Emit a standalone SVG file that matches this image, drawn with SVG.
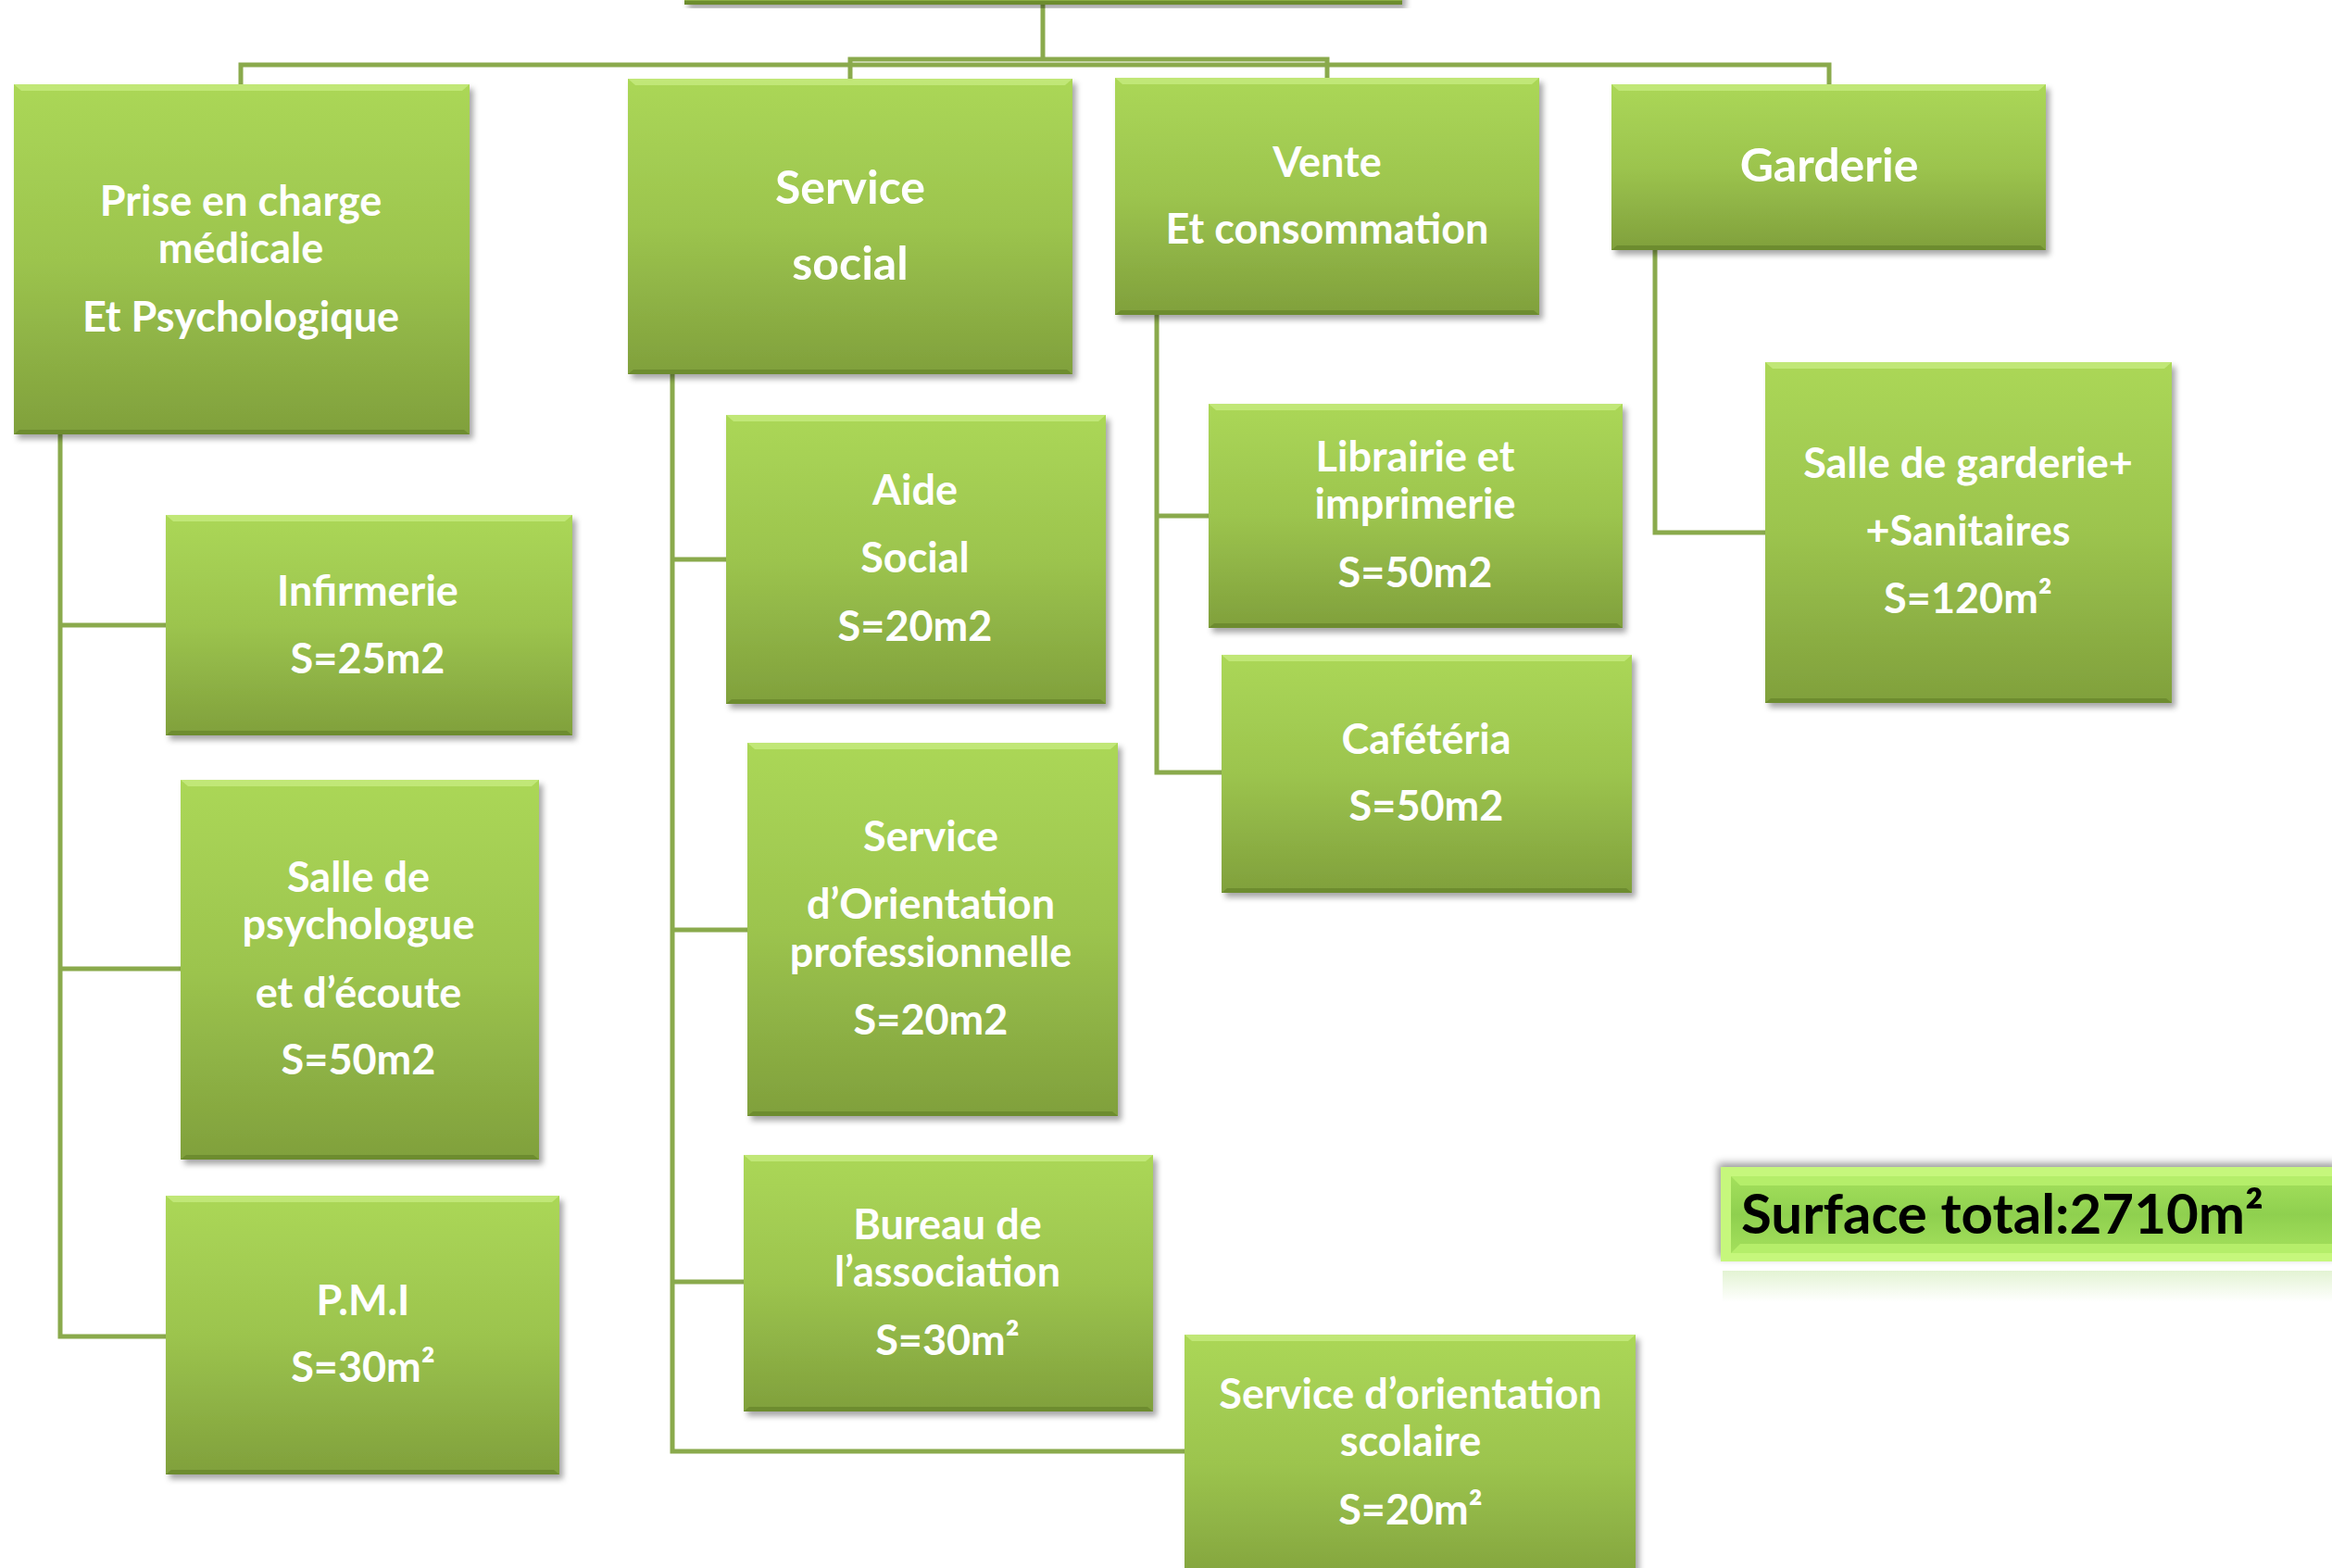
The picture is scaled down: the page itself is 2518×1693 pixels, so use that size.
<svg xmlns="http://www.w3.org/2000/svg" width="2518" height="1693" viewBox="0 0 2518 1693">
<defs>
<linearGradient id="g" x1="0" y1="0" x2="0" y2="1">
<stop offset="0" stop-color="#abd757"/>
<stop offset="0.5" stop-color="#9cc44e"/>
<stop offset="1" stop-color="#80a03c"/>
</linearGradient>
<linearGradient id="gs" x1="0" y1="0" x2="0" y2="1">
<stop offset="0" stop-color="#a4e05c"/>
<stop offset="0.5" stop-color="#8fd04f"/>
<stop offset="1" stop-color="#a4e05c"/>
</linearGradient>
<linearGradient id="refl" x1="0" y1="0" x2="0" y2="1">
<stop offset="0" stop-color="#8fd04f" stop-opacity="0.25"/>
<stop offset="1" stop-color="#8fd04f" stop-opacity="0"/>
</linearGradient>
<filter id="sh" x="-5%" y="-5%" width="115%" height="120%">
<feDropShadow dx="4" dy="5" stdDeviation="3" flood-color="#000" flood-opacity="0.35"/>
</filter>
<filter id="sh2" x="-5%" y="-30%" width="115%" height="160%">
<feDropShadow dx="-3" dy="-4" stdDeviation="4" flood-color="#000" flood-opacity="0.4"/>
</filter>
</defs>
<style>
.n{fill:url(#g);filter:url(#sh)}
.hl{fill:#c4ea7c;opacity:0.85}
.dk{fill:#6a8a2e;opacity:0.9}
.c{fill:none;stroke:#8aaa4c;stroke-width:5;stroke-linejoin:miter}
.t{font-family:Lato,"Open Sans","Liberation Sans",sans-serif;font-weight:700;font-size:45px;fill:#fff;text-anchor:middle}
.b{font-size:50px}
</style>
<rect width="2518" height="1693" fill="#fff"/>

<g id="connectors">
<path class="c" d="M1126,5 V64"/>
<path class="c" d="M918,85 V64 H1433 V84"/>
<path class="c" d="M260,91 V70 H1975 V91"/>
<path class="c" d="M65,469 V1443 H179 M65,675 H179 M65,1046 H195"/>
<path class="c" d="M726,404 V1567 H1279 M726,604 H784 M726,1004 H807 M726,1384 H803"/>
<path class="c" d="M1249,340 V834 H1319 M1249,557 H1305"/>
<path class="c" d="M1787,270 V575 H1906"/>
</g>

<g id="root">
<rect class="n" x="739" y="-20" width="775" height="25"/>
<rect class="dk" x="739" y="1" width="775" height="4"/>
</g>

<g id="prise">
<rect class="n" x="15" y="91" width="492" height="378"/>
<path class="hl" d="M15,91 h492 l-8,7 h-476 z"/>
<path class="dk" d="M15,469 h492 l-6,-5 h-480 z"/>
<text class="t" x="260" y="233">Prise en charge</text>
<text class="t" x="260" y="284">médicale</text>
<text class="t" x="260" y="358">Et Psychologique</text>
</g>

<g id="service-social">
<rect class="n" x="678" y="85" width="480" height="319"/>
<path class="hl" d="M678,85 h480 l-8,7 h-464 z"/>
<path class="dk" d="M678,404 h480 l-6,-5 h-468 z"/>
<text class="t b" x="918" y="220">Service</text>
<text class="t b" x="918" y="302">social</text>
</g>

<g id="vente">
<rect class="n" x="1204" y="84" width="458" height="256"/>
<path class="hl" d="M1204,84 h458 l-8,7 h-442 z"/>
<path class="dk" d="M1204,340 h458 l-6,-5 h-446 z"/>
<text class="t" x="1433" y="191">Vente</text>
<text class="t" x="1433" y="263">Et consommation</text>
</g>

<g id="garderie">
<rect class="n" x="1740" y="91" width="469" height="179"/>
<path class="hl" d="M1740,91 h469 l-8,7 h-453 z"/>
<path class="dk" d="M1740,270 h469 l-6,-5 h-457 z"/>
<text class="t b" x="1975" y="196">Garderie</text>
</g>

<g id="infirmerie">
<rect class="n" x="179" y="556" width="439" height="238"/>
<path class="hl" d="M179,556 h439 l-8,7 h-423 z"/>
<path class="dk" d="M179,794 h439 l-6,-5 h-427 z"/>
<text class="t" x="397" y="654">Infirmerie</text>
<text class="t" x="397" y="727">S=25m2</text>
</g>

<g id="salle-psychologue">
<rect class="n" x="195" y="842" width="387" height="410"/>
<path class="hl" d="M195,842 h387 l-8,7 h-371 z"/>
<path class="dk" d="M195,1252 h387 l-6,-5 h-375 z"/>
<text class="t" x="387" y="963">Salle de</text>
<text class="t" x="387" y="1014">psychologue</text>
<text class="t" x="387" y="1088">et d’écoute</text>
<text class="t" x="387" y="1160">S=50m2</text>
</g>

<g id="pmi">
<rect class="n" x="179" y="1291" width="425" height="301"/>
<path class="hl" d="M179,1291 h425 l-8,7 h-409 z"/>
<path class="dk" d="M179,1592 h425 l-6,-5 h-413 z"/>
<text class="t" x="392" y="1420">P.M.I</text>
<text class="t" x="392" y="1492">S=30m²</text>
</g>

<g id="aide-social">
<rect class="n" x="784" y="448" width="410" height="312"/>
<path class="hl" d="M784,448 h410 l-8,7 h-394 z"/>
<path class="dk" d="M784,760 h410 l-6,-5 h-398 z"/>
<text class="t" x="988" y="545">Aide</text>
<text class="t" x="988" y="618">Social</text>
<text class="t" x="988" y="692">S=20m2</text>
</g>

<g id="orientation-pro">
<rect class="n" x="807" y="802" width="400" height="403"/>
<path class="hl" d="M807,802 h400 l-8,7 h-384 z"/>
<path class="dk" d="M807,1205 h400 l-6,-5 h-388 z"/>
<text class="t" x="1005" y="919">Service</text>
<text class="t" x="1005" y="992">d’Orientation</text>
<text class="t" x="1005" y="1044">professionnelle</text>
<text class="t" x="1005" y="1117">S=20m2</text>
</g>

<g id="bureau">
<rect class="n" x="803" y="1247" width="442" height="277"/>
<path class="hl" d="M803,1247 h442 l-8,7 h-426 z"/>
<path class="dk" d="M803,1524 h442 l-6,-5 h-430 z"/>
<text class="t" x="1023" y="1338">Bureau de</text>
<text class="t" x="1023" y="1389">l’association</text>
<text class="t" x="1023" y="1463">S=30m²</text>
</g>

<g id="orientation-scolaire">
<rect class="n" x="1279" y="1441" width="487" height="280"/>
<path class="hl" d="M1279,1441 h487 l-8,7 h-471 z"/>
<text class="t" x="1523" y="1521">Service d’orientation</text>
<text class="t" x="1523" y="1572">scolaire</text>
<text class="t" x="1523" y="1646">S=20m²</text>
</g>

<g id="librairie">
<rect class="n" x="1305" y="436" width="447" height="242"/>
<path class="hl" d="M1305,436 h447 l-8,7 h-431 z"/>
<path class="dk" d="M1305,678 h447 l-6,-5 h-435 z"/>
<text class="t" x="1528" y="509">Librairie et</text>
<text class="t" x="1528" y="560">imprimerie</text>
<text class="t" x="1528" y="634">S=50m2</text>
</g>

<g id="cafeteria">
<rect class="n" x="1319" y="707" width="443" height="257"/>
<path class="hl" d="M1319,707 h443 l-8,7 h-427 z"/>
<path class="dk" d="M1319,964 h443 l-6,-5 h-431 z"/>
<text class="t" x="1540" y="814">Cafétéria</text>
<text class="t" x="1540" y="886">S=50m2</text>
</g>

<g id="salle-garderie">
<rect class="n" x="1906" y="391" width="439" height="368"/>
<path class="hl" d="M1906,391 h439 l-8,7 h-423 z"/>
<path class="dk" d="M1906,759 h439 l-6,-5 h-427 z"/>
<text class="t" x="2125" y="516">Salle de garderie+</text>
<text class="t" x="2125" y="589">+Sanitaires</text>
<text class="t" x="2125" y="662">S=120m²</text>
</g>

<g id="surface-total">
<rect x="1860" y="1372" width="670" height="34" fill="url(#refl)"/>
<rect x="1858" y="1260" width="670" height="102" fill="#8fd04f" filter="url(#sh2)"/>
<path d="M1858,1260 h670 v102 h-670 z M1869,1270 v83 h660 v-83 z" fill="#c6f77c" fill-rule="evenodd"/>
<rect x="1869" y="1270" width="660" height="83" fill="url(#gs)"/>
<path d="M1869,1270 h660 l-10,10 h-640 z" fill="#b5ee6a"/>
<path d="M1869,1353 h660 l-10,-10 h-640 z" fill="#b5ee6a"/>
<text x="1880" y="1332" font-family="Lato,'Open Sans','Liberation Sans',sans-serif" font-weight="700" font-size="60" fill="#000">Surface total:2710m²</text>
</g>
</svg>
